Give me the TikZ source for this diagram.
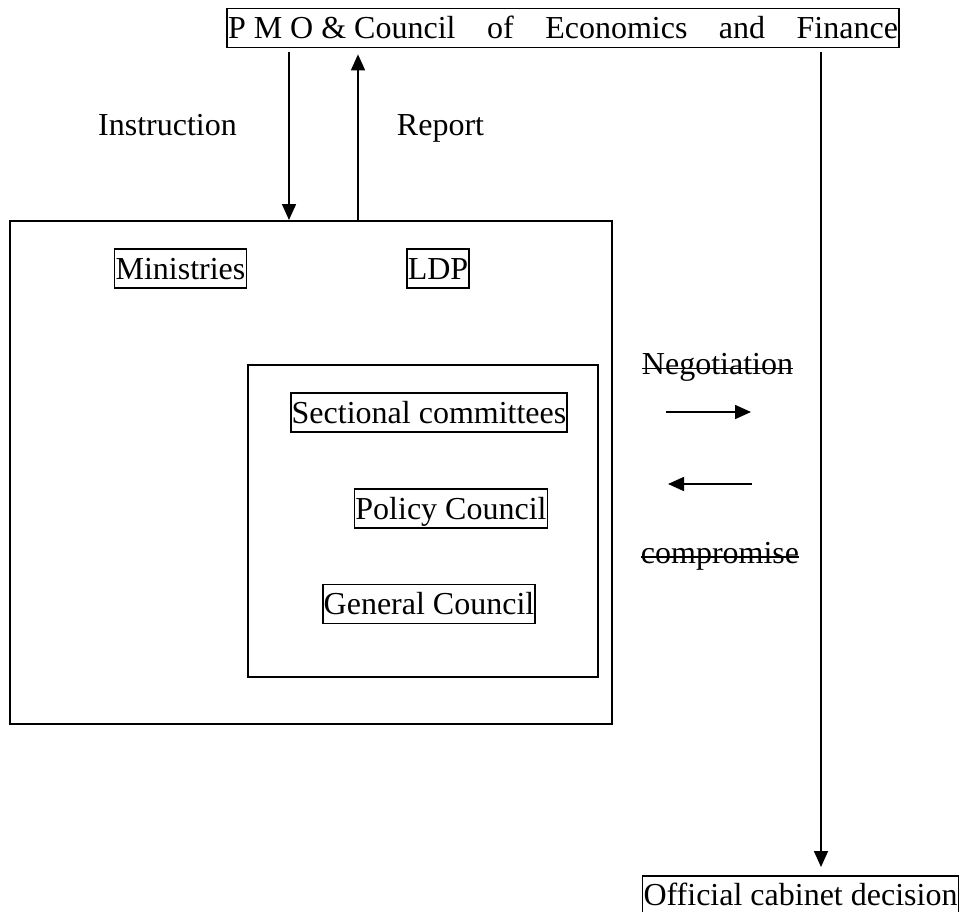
\documentclass[tikz,border=0pt]{standalone}
\usepackage{fontspec}
\setmainfont{Liberation Serif}
\usetikzlibrary{arrows.meta}
\begin{document}
\begin{tikzpicture}[x=1pt,y=-1pt,
  every node/.style={font=\fontsize{32pt}{38pt}\selectfont},
  lbox/.style={draw,line width=1.7pt,inner xsep=1pt,inner ysep=2pt,text height=28pt,text depth=7pt},
  frame/.style={draw,line width=1.6pt,inner sep=0pt,anchor=north west},
  lbl/.style={inner sep=0pt,anchor=base},
  arr/.style={line width=1.6pt,-{Triangle[length=16pt,width=14pt]}},
  strike/.style={line width=1.6pt}]
\useasboundingbox (0,0) rectangle (961,911);

% frames
\node[frame,minimum width=602pt,minimum height=503pt] (outer) at (9,220) {};
\node[frame,minimum width=350pt,minimum height=312pt] (inner) at (247,364) {};

% boxes
\node[lbox] (top) at (563,28) {\makebox[670pt][s]{P M O \& Council\hfill of\hfill Economics\hfill and\hfill Finance}};
\node[lbox] (min) at (180.5,268.5) {Ministries};
\node[lbox] (ldp) at (438,268.5) {LDP};
\node[lbox] (sec) at (429,412.5) {Sectional committees};
\node[lbox] (pol) at (451,508.5) {Policy Council};
\node[lbox] (gen) at (429,604) {General Council};
\node[lbox,anchor=north] (off) at (800.5,875) {Official cabinet decision};

% labels
\node[lbl] (ins) at (167.5,135) {Instruction};
\node[lbl] (rep) at (440.5,135) {Report};
\node[lbl] (neg) at (717.5,374) {Negotiation};
\node[lbl] (com) at (720,563) {compromise};
\draw[strike] ([yshift=5.5pt]neg.base west) -- ([yshift=5.5pt]neg.base east);
\draw[strike] ([yshift=6pt]com.base west) -- ([yshift=6pt]com.base east);

% connectors
\coordinate (ix) at (289,0);
\coordinate (rx) at (358,0);
\coordinate (fx) at (821,0);
\draw[arr,shorten <=4pt] (top.south -| ix) -- (outer.north -| ix);
\draw[arr,shorten >=6pt] (outer.north -| rx) -- (top.south -| rx);
\draw[arr,shorten <=4pt,shorten >=8pt] (top.south -| fx) -- (off.north -| fx);

\coordinate (na) at (666,412);
\coordinate (nb) at (751,412);
\coordinate (ca) at (752,484);
\coordinate (cb) at (668,484);
\draw[arr] (na) -- (nb);
\draw[arr] (ca) -- (cb);
\end{tikzpicture}
\end{document}
